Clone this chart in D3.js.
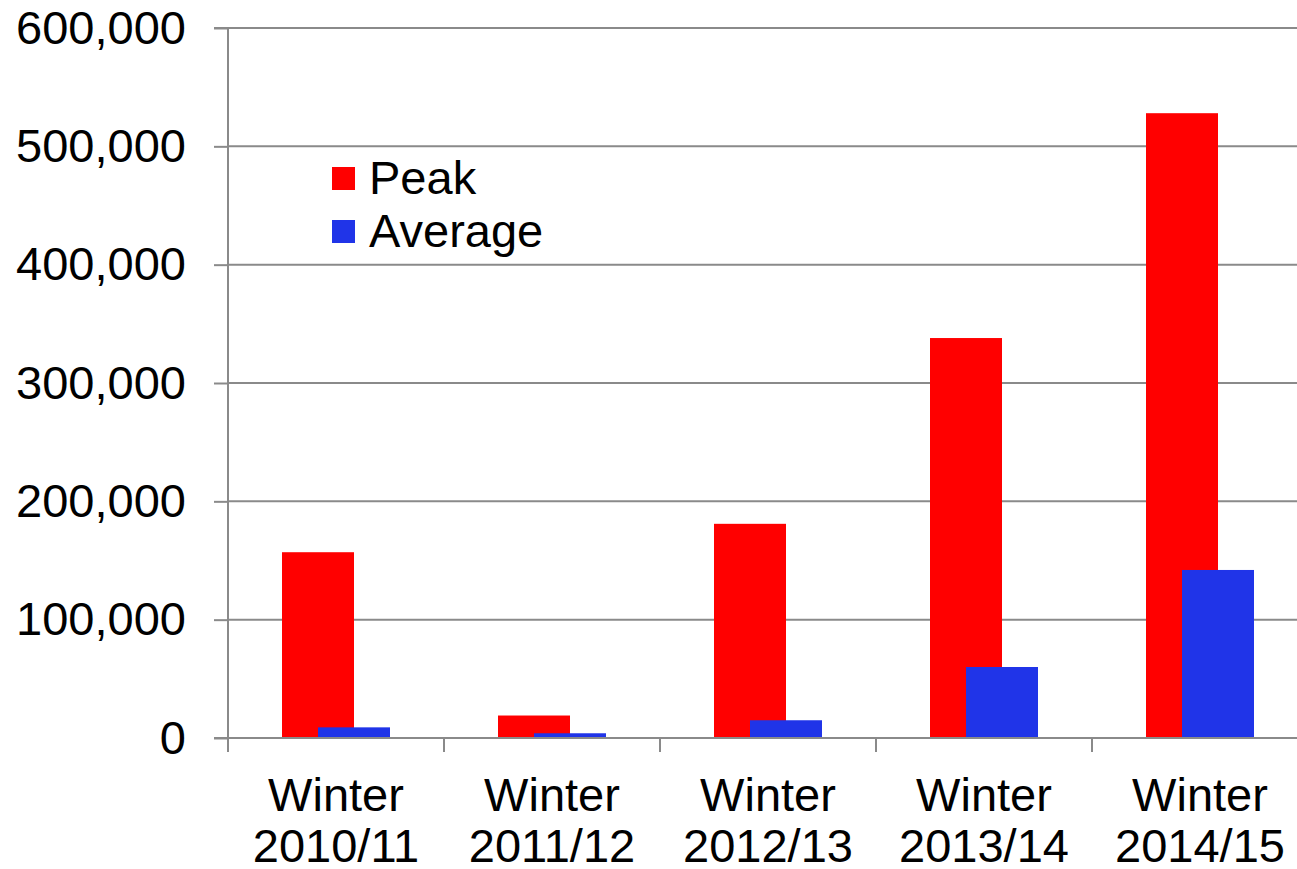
<!DOCTYPE html>
<html>
<head>
<meta charset="utf-8">
<script src="https://cdn.jsdelivr.net/npm/d3@7/dist/d3.min.js"></script>
<style>
  html, body { margin: 0; padding: 0; background: #ffffff; }
  svg { display: block; }
  text { font-family: "Liberation Sans", Arial, sans-serif; fill: #000; }
</style>
</head>
<body>
<svg id="chart" width="1297" height="869"></svg>
<script>
// Winter seasons shown on the x axis
const seasons = ["Winter 2010/11", "Winter 2011/12", "Winter 2012/13", "Winter 2013/14", "Winter 2014/15"];
// Series values
const peakValues = [157000, 19000, 181000, 338000, 528000];
const averageValues = [9000, 4000, 15000, 60000, 142000];
// Y axis ticks
const yTicks = [0, 100000, 200000, 300000, 400000, 500000, 600000];

const seriesNames = ["Peak", "Average"];
const seriesColors = ["#ff0000", "#2034e8"];

const svg = d3.select("#chart");
const margin = { left: 228, top: 28, right: 1308, bottom: 738 };

const x = d3.scaleBand().domain(seasons).range([margin.left, margin.right]);
const y = d3.scaleLinear().domain([0, 600000]).range([margin.bottom, margin.top]);

const gridColor = "#8a8a8a";
const fontSize = 47;

// Horizontal gridlines
svg.append("g")
  .selectAll("line")
  .data(yTicks.filter(d => d > 0))
  .join("line")
  .attr("x1", margin.left).attr("x2", margin.right)
  .attr("y1", d => y(d)).attr("y2", d => y(d))
  .attr("stroke", gridColor).attr("stroke-width", 2);

// Bars: the two series overlap by half a bar width
const barW = x.bandwidth() / 3;
const offsets = [-barW / 4, barW / 4];
const seriesData = [peakValues, averageValues];

seriesData.forEach((vals, si) => {
  svg.append("g")
    .selectAll("rect")
    .data(vals.map((v, i) => ({ season: seasons[i], value: v })))
    .join("rect")
    .attr("x", d => x(d.season) + x.bandwidth() / 2 + offsets[si] - barW / 2)
    .attr("width", barW)
    .attr("y", d => y(d.value))
    .attr("height", d => y(0) - y(d.value))
    .attr("fill", seriesColors[si]);
});

// Y axis
const yAxis = d3.axisLeft(y)
  .tickValues(yTicks)
  .tickSize(14)
  .tickPadding(28)
  .tickFormat(d3.format(","));
const gy = svg.append("g").attr("transform", `translate(${margin.left},0)`).call(yAxis);
gy.select(".domain").attr("stroke", gridColor).attr("stroke-width", 2)
  .attr("d", `M-14,${y(600000)}H0V${y(0)}H-14`);
gy.selectAll(".tick line").attr("stroke", gridColor).attr("stroke-width", 2);
gy.selectAll(".tick text")
  .attr("font-size", fontSize)
  .attr("font-family", "Liberation Sans, Arial, sans-serif")
  .attr("fill", "#000");

// X axis with two-line category labels
const xAxisLine = svg.append("g");
xAxisLine.append("line")
  .attr("x1", margin.left).attr("x2", margin.right)
  .attr("y1", y(0)).attr("y2", y(0))
  .attr("stroke", gridColor).attr("stroke-width", 2);
const boundaries = seasons.map(s => x(s)).concat([margin.right]);
xAxisLine.selectAll("line.tick")
  .data(boundaries)
  .join("line")
  .attr("class", "tick")
  .attr("x1", d => d).attr("x2", d => d)
  .attr("y1", y(0)).attr("y2", y(0) + 14)
  .attr("stroke", gridColor).attr("stroke-width", 2);

const labels = svg.append("g")
  .selectAll("text")
  .data(seasons)
  .join("text")
  .attr("x", d => x(d) + x.bandwidth() / 2)
  .attr("text-anchor", "middle")
  .attr("font-size", fontSize);
labels.each(function (d) {
  const parts = d.split(" ");
  const t = d3.select(this);
  t.append("tspan").attr("x", x(d) + x.bandwidth() / 2).attr("y", 811).text(parts[0]);
  t.append("tspan").attr("x", x(d) + x.bandwidth() / 2).attr("y", 862).text(parts[1]);
});

// Legend
const legend = svg.append("g").attr("transform", "translate(332,167)");
seriesNames.forEach((name, i) => {
  const row = legend.append("g").attr("transform", `translate(0,${i * 53})`);
  row.append("rect").attr("width", 23).attr("height", 23).attr("fill", seriesColors[i]);
  row.append("text").attr("x", 37).attr("y", 27).attr("font-size", fontSize).text(name);
});
</script>
</body>
</html>
